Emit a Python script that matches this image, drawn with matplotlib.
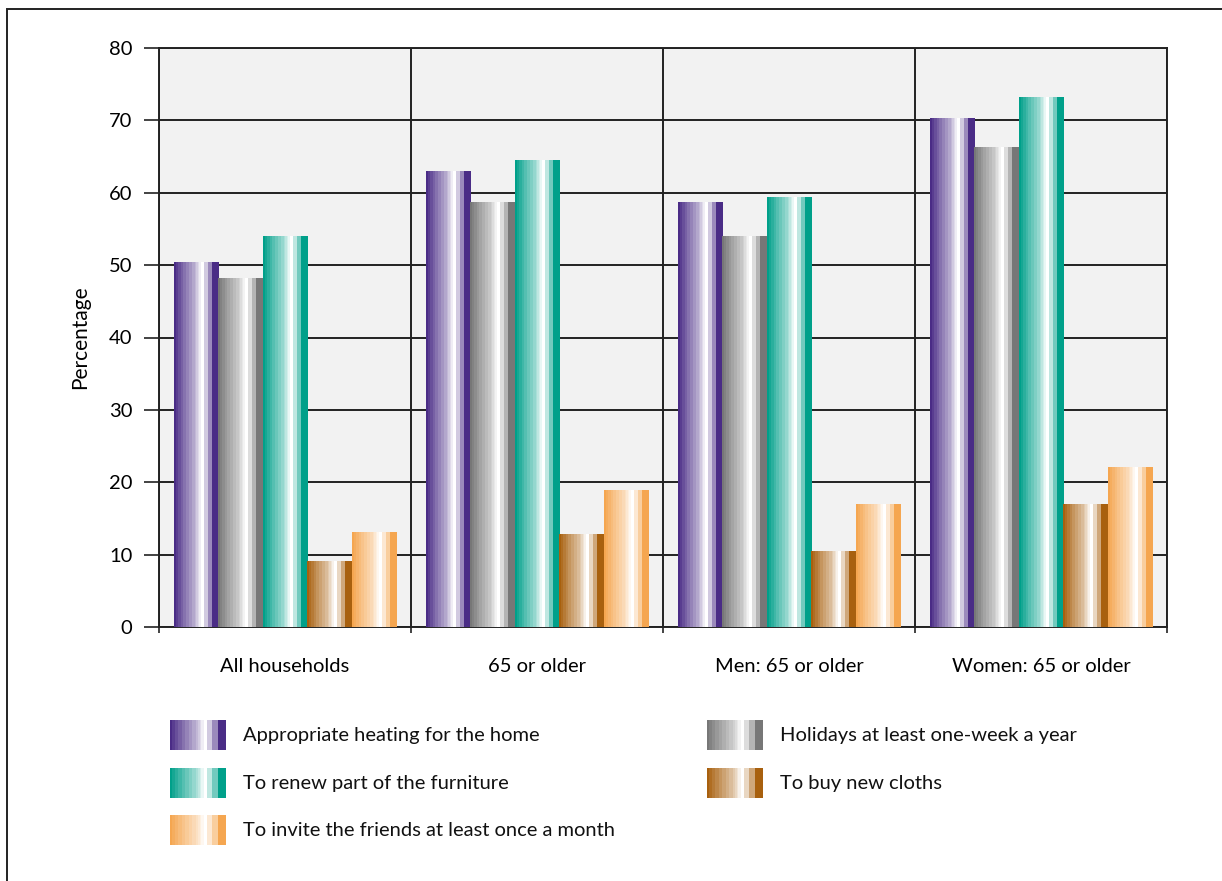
import numpy as np
import matplotlib
matplotlib.use("Agg")
import matplotlib.pyplot as plt
from matplotlib.colors import to_rgb

plt.rcParams['font.family'] = ['Lato', 'DejaVu Sans']

categories = ["All households", "65 or older", "Men: 65 or older", "Women: 65 or older"]
series_names = ["Appropriate heating for the home",
                "Holidays at least one-week a year",
                "To renew part of the furniture",
                "To buy new cloths",
                "To invite the friends at least once a month"]
heating = [50.4, 63.0, 58.7, 70.2]
holidays = [48.2, 58.6, 53.9, 66.3]
furniture = [54.0, 64.4, 59.3, 73.2]
cloths = [9.1, 12.8, 10.5, 16.9]
friends = [13.0, 18.8, 16.9, 22.1]
series_values = [heating, holidays, furniture, cloths, friends]
base_colors = ["#4a2c86", "#777777", "#00a08a", "#a8600e", "#f5a650"]
yticks = [0, 10, 20, 30, 40, 50, 60, 70, 80]


def stripes(color, n=48):
    # banded "cylinder" shading: dark left, white highlight, dark right edge
    u = (np.arange(n) + 0.5) / n
    t = np.interp(u, [0.0, 0.04, 0.23, 0.38, 0.53, 0.6], [0.0, 0.1, 0.38, 0.55, 0.8, 1.0])
    t = np.floor(t * 12) / 12.0
    t[(u >= 0.60) & (u < 0.67)] = 1.0
    t[(u >= 0.67) & (u < 0.76)] = 0.75
    t[(u >= 0.76) & (u < 0.86)] = 0.45
    t[u >= 0.86] = 0.0
    c = np.array(to_rgb(color))
    img = c[None, :] * (1 - t[:, None]) + t[:, None]
    return img[None, :, :]


fig = plt.figure(figsize=(12.22, 8.81), dpi=100)
ax = fig.add_axes([159 / 1222, 1 - 627 / 881, 1008 / 1222, 579 / 881])
ax.set_facecolor("#f2f2f2")

x = np.arange(len(categories))
w = 0.176
for i, vals in enumerate(series_values):
    bars = ax.bar(x + (i - 2) * w, vals, w, color="none", edgecolor="none", zorder=3)
    for b in bars:
        ax.imshow(stripes(base_colors[i]), extent=[b.get_x(), b.get_x() + b.get_width(), 0, b.get_height()],
                  aspect="auto", interpolation="nearest", zorder=3)

ax.set_xlim(-0.5, len(categories) - 0.5)
ax.set_ylim(0, 80)
ax.set_yticks(yticks)
ax.tick_params(axis="y", length=11, width=1.2, color="#222222", labelsize=14.5, pad=8)
ax.set_xticks(x)
ax.set_xticklabels(categories, fontsize=14.5)
ax.tick_params(axis="x", which="major", length=0, pad=22)
ax.set_xticks(np.arange(-0.5, len(categories), 1.0), minor=True)
ax.tick_params(axis="x", which="minor", length=4, width=1.2, color="#222222")
ax.yaxis.grid(True, color="#222222", lw=1.4, zorder=1)
ax.xaxis.grid(True, which="minor", color="#222222", lw=1.4, zorder=1)
ax.set_axisbelow(True)
for s in ax.spines.values():
    s.set_color("#222222")
    s.set_linewidth(1.4)
ax.set_ylabel("Percentage", fontsize=15, labelpad=14)

# legend: two columns, gradient swatches
legend_pos = [(170, 735), (707, 735), (170, 783), (707, 783), (170, 830)]
for i, (lx, ly) in enumerate(legend_pos):
    sw = fig.add_axes([lx / 1222, 1 - (ly + 15) / 881, 56 / 1222, 30 / 881])
    sw.imshow(stripes(base_colors[i]), aspect="auto", interpolation="nearest")
    sw.axis("off")
    fig.text((lx + 73) / 1222, 1 - ly / 881, series_names[i], fontsize=14.5, va="center", ha="left",
             color="#111111")

# outer frame (top and left edges visible)
fig.add_artist(plt.Rectangle((7 / 1222, -0.05), 1.2, 1 - 9 / 881 + 0.05, transform=fig.transFigure,
                             fill=False, edgecolor="#222222", lw=1.4))

fig.savefig("out.png", dpi=100)
